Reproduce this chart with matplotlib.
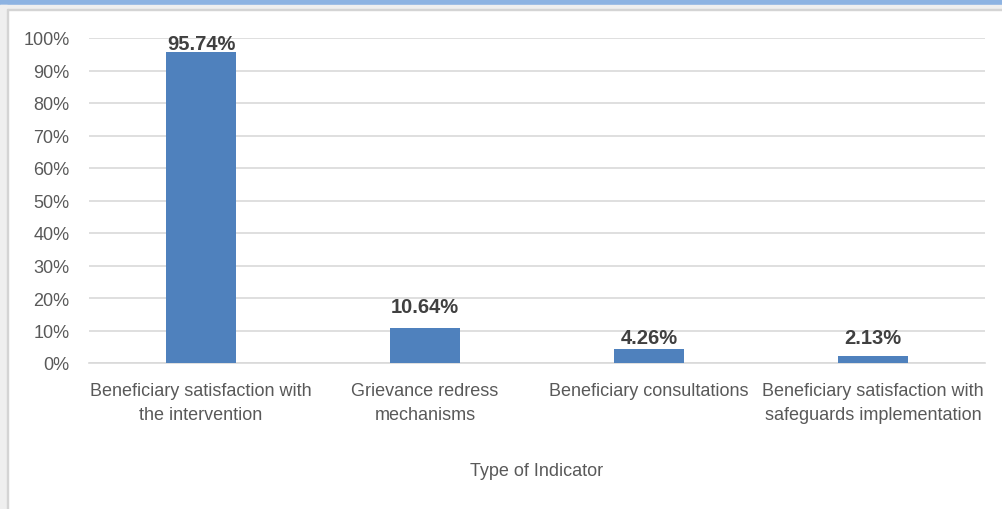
import matplotlib
matplotlib.use("Agg")
import matplotlib.pyplot as plt
from matplotlib.patches import Rectangle
from matplotlib.ticker import FuncFormatter

# ── Data ───────────────────────────────────────────────────────────────
categories = [
    "Beneficiary satisfaction with\nthe intervention",
    "Grievance redress\nmechanisms",
    "Beneficiary consultations",
    "Beneficiary satisfaction with\nsafeguards implementation",
]
values = [95.74, 10.64, 4.26, 2.13]
y_ticks = [0, 10, 20, 30, 40, 50, 60, 70, 80, 90, 100]
x_label = "Type of Indicator"

# label placement (data units above bar top), as in the source chart
label_offsets = [-0.3, 3.8, 0.7, 2.8]

W, H = 1002, 510
plt.rcParams["font.family"] = ["Liberation Sans", "DejaVu Sans"]

fig = plt.figure(figsize=(W / 100, H / 100), dpi=100)
fig.patch.set_facecolor("white")


# frame decorations (screenshot edges)
def px_rect(x0, y0, x1, y1, color):
    fig.patches.append(Rectangle((x0 / W, 1 - y1 / H), (x1 - x0) / W, (y1 - y0) / H,
                                 transform=fig.transFigure, color=color, zorder=0))


px_rect(0, 0, W, 6, "#8DB3E2")
px_rect(0, 6, W, 10, "#EFEFEF")
px_rect(0, 10, W, 11, "#D4D4D4")
px_rect(0, 6, 7, H, "#EFEFEF")
px_rect(7, 10, 8, H, "#D4D4D4")

ax = fig.add_axes([89 / W, 146 / H, (985 - 89) / W, (364 - 39) / H])
ax.set_facecolor("none")

x = list(range(len(categories)))
ax.bar(x, values, width=0.3125, color="#4F81BD", zorder=3)

for xi, v, off in zip(x, values, label_offsets):
    ax.text(xi, v + off, f"{v:.2f}%", ha="center", va="bottom",
            fontsize=14.5, fontweight="bold", color="#404040", zorder=4)

ax.set_xlim(-0.5, len(categories) - 0.5)
ax.set_ylim(0, 100)
ax.set_yticks(y_ticks)
ax.yaxis.set_major_formatter(FuncFormatter(lambda v, p: f"{v:.0f}%"))
ax.set_xticks(x)
ax.set_xticklabels(categories, linespacing=1.5)

ax.grid(axis="y", color="#D9D9D9", linewidth=1.2, zorder=0)
for s in ["top", "right", "left"]:
    ax.spines[s].set_visible(False)
ax.spines["bottom"].set_color("#D9D9D9")
ax.spines["bottom"].set_linewidth(1.2)

ax.tick_params(axis="both", length=0, labelsize=13, colors="#595959")
ax.tick_params(axis="x", pad=14)
ax.tick_params(axis="y", pad=14)

fig.text((89 + 985) / 2 / W, 1 - 472 / H, x_label, ha="center", va="center",
         fontsize=13, color="#595959")

fig.savefig("out.png", dpi=100)
